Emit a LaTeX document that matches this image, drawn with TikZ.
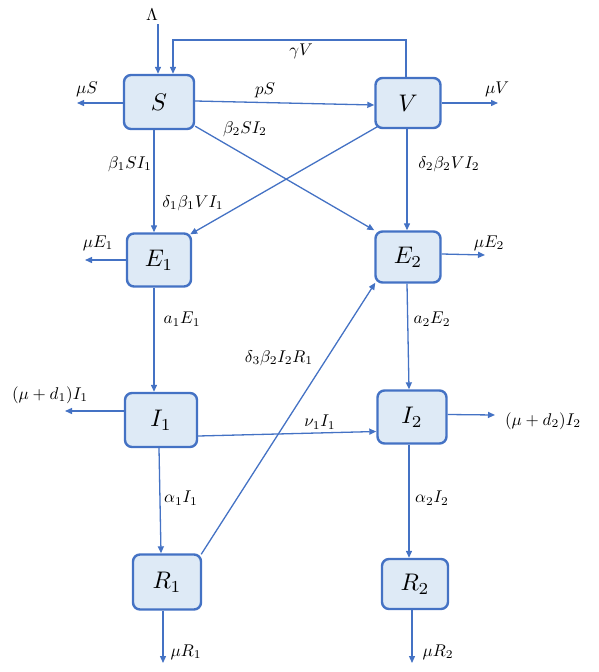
\documentclass[tikz,border=0pt]{standalone}
\usepackage{graphicx}
\usetikzlibrary{arrows.meta}
\definecolor{myblue}{HTML}{4472C4}
\definecolor{boxfill}{HTML}{DEEAF6}
\newcommand{\mylbl}[1]{\scalebox{1.7}{$#1$}}
\newcommand{\myboxtxt}[1]{\scalebox{2.4}{$#1$}}
\tikzset{
  box/.style={draw=myblue, fill=boxfill, line width=2.4pt, rounded corners=7pt,
    minimum width=68pt, minimum height=53pt, inner sep=0pt},
  arr/.style={draw=myblue, line width=1.3pt, -{Triangle[length=7pt,width=6pt]}},
  lab/.style={inner sep=0pt}
}
\begin{document}
\begin{tikzpicture}[x=1pt,y=-1pt]
\useasboundingbox (0,0) rectangle (598,672);
% boxes
\node[box, minimum width=70pt, minimum height=54pt] (S) at (159,102) {\myboxtxt{S}};
\node[box, minimum width=65pt, minimum height=50pt] (V) at (408,103) {\myboxtxt{V}};
\node[box, minimum width=64pt, minimum height=53pt] (E1) at (159,260) {\myboxtxt{E_1}};
\node[box, minimum width=65pt, minimum height=51pt] (E2) at (408,257) {\myboxtxt{E_2}};
\node[box, minimum width=72pt, minimum height=54pt] (I1) at (161,420) {\myboxtxt{I_1}};
\node[box, minimum width=69pt, minimum height=53pt] (I2) at (412,417) {\myboxtxt{I_2}};
\node[box, minimum width=68pt, minimum height=55pt] (R1) at (167,582) {\myboxtxt{R_1}};
\node[box, minimum width=66pt, minimum height=50pt] (R2) at (415,584) {\myboxtxt{R_2}};
% free ends
\coordinate (lam) at (158,24);
\coordinate (gleft) at (173,40);
\coordinate (muS) at (77,103);
\coordinate (muV) at (498,103);
\coordinate (muE1) at (85,260);
\coordinate (muE2) at (485,255);
\coordinate (muI1) at (65,411);
\coordinate (muI2) at (495,415);
\coordinate (muR1) at (163,663);
\coordinate (muR2) at (412,663);
% connectors
\draw[arr] (lam) -- (lam |- S.north);
\draw[arr] ([xshift=-2pt]V.north) |- (gleft) -- (gleft |- S.north);
\draw[arr] (S.west |- muS) -- (muS);
\draw[arr] ([yshift=1pt]S.east) -- ([yshift=-2pt]V.west);
\draw[arr] (V.east) -- (muV);
\draw[arr] ([yshift=4pt]S.south east) -- (E2.north west);
\draw[arr] ([xshift=-5pt]S.south) -- ([xshift=-5pt]E1.north);
\draw[arr] ([shift={(4pt,3pt)}]V.south west) -- ([shift={(-2pt,-2pt)}]E1.north east);
\draw[arr] ([xshift=-1pt]V.south) -- ([xshift=-1pt]E2.north);
\draw[arr] (E1.west) -- (muE1);
\draw[arr] ([yshift=3pt]E2.east) -- (muE2);
\draw[arr] ([xshift=-5pt]E1.south) -- ([xshift=-7pt]I1.north);
\draw[arr] ([xshift=-1pt]E2.south) -- ([xshift=-3pt]I2.north);
\draw[arr] ([yshift=9pt]I1.west) -- (muI1);
\draw[arr] ([yshift=2.5pt]I2.east) -- (muI2);
\draw[arr] ([yshift=-16pt]I1.east) -- ([yshift=-14.5pt]I2.west);
\draw[arr] ([shift={(-1pt,-1pt)}]R1.north east) -- ([shift={(1pt,1pt)}]E2.south west);
\draw[arr] ([xshift=-2pt]I1.south) -- ([xshift=-6pt]R1.north);
\draw[arr] ([xshift=-3pt]I2.south) -- ([xshift=-6pt]R2.north);
\draw[arr] ([xshift=-4pt]R1.south) -- (muR1);
\draw[arr] ([xshift=-3pt]R2.south) -- (muR2);
% labels
\node[lab] (tLam) at (152,15) {\mylbl{\Lambda}};
\node[lab] (tgV) at (301,51) {\mylbl{\gamma V}};
\node[lab] (tmuS) at (87,89) {\mylbl{\mu S}};
\node[lab] (tpS) at (265,90) {\mylbl{pS}};
\node[lab] (tmuV) at (497,89) {\mylbl{\mu V}};
\node[lab] (tb2) at (245,129) {\mylbl{\beta_2 S I_2}};
\node[lab] (tb1) at (130,164) {\mylbl{\beta_1 S I_1}};
\node[lab] (td1) at (193,203) {\mylbl{\delta_1\beta_1 V I_1}};
\node[lab] (td2) at (449,164) {\mylbl{\delta_2\beta_2 V I_2}};
\node[lab] (tmuE1) at (98,243) {\mylbl{\mu E_1}};
\node[lab] (tmuE2) at (489,243) {\mylbl{\mu E_2}};
\node[lab] (ta1) at (182,319) {\mylbl{a_1 E_1}};
\node[lab] (ta2) at (432,319) {\mylbl{a_2 E_2}};
\node[lab] (td3) at (279,358) {\mylbl{\delta_3\beta_2 I_2 R_1}};
\node[lab] (tmuI1) at (50,395) {\mylbl{(\mu+d_1)I_1}};
\node[lab] (tnu) at (320,422) {\mylbl{\nu_1 I_1}};
\node[lab] (tmuI2) at (543,421) {\mylbl{(\mu+d_2)I_2}};
\node[lab] (tal1) at (181,498) {\mylbl{\alpha_1 I_1}};
\node[lab] (tal2) at (432,498) {\mylbl{\alpha_2 I_2}};
\node[lab] (tmuR1) at (186,652) {\mylbl{\mu R_1}};
\node[lab] (tmuR2) at (438,652) {\mylbl{\mu R_2}};
\end{tikzpicture}
\end{document}
